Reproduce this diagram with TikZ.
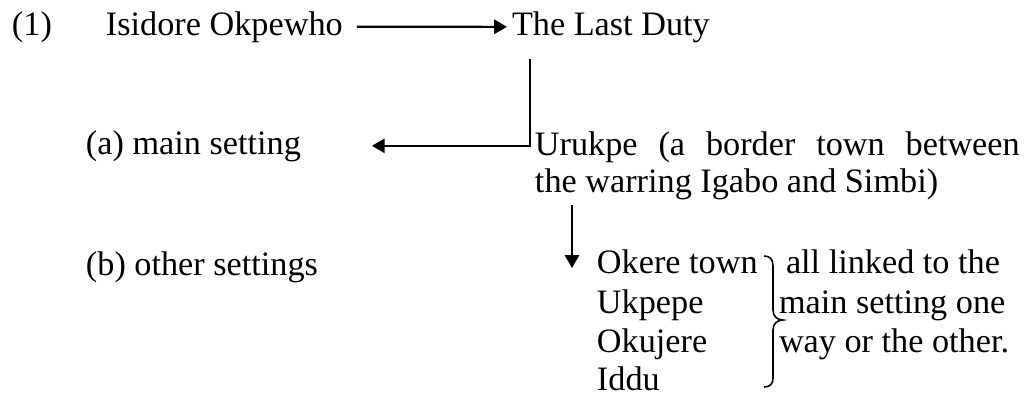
\documentclass[tikz,border=0pt]{standalone}
\usepackage{fontspec}
\setmainfont{Liberation Serif}
\usetikzlibrary{arrows.meta}
% one drawing unit
\newcommand\pxl{0.3505pt}
\begin{document}
\begin{tikzpicture}[x=\pxl,y=-\pxl,
  font=\fontsize{12pt}{13.8pt}\selectfont,
  txt/.style={anchor=base west, inner sep=0pt, outer sep=0pt},
  link/.style={line width=0.75pt},
  arr/.style={link,-{Triangle[length=4.5pt,width=5pt]}},
  bracestroke/.style={line width=0.55pt}]
\useasboundingbox (0,0) rectangle (1024,397);

% headings and labels
\node[txt] (num)      at (12,35)   {(1)};
\node[txt] (author)   at (106,35)  {Isidore Okpewho};
\node[txt] (novel)    at (512,35)  {The Last Duty};
\node[txt] (mainlbl)  at (86,154)  {(a) main setting};
\node[txt] (urukpe)   at (535,155) {\makebox[169.9pt][s]{Urukpe (a border town between}};
\node[txt] (warring)  at (535,192) {the warring Igabo and Simbi)};
\node[txt] (otherlbl) at (86,275)  {(b) other settings};

% list of other settings
\node[txt] (okere)   at (597,273) {Okere town};
\node[txt] (ukpepe)  at (597,313) {Ukpepe};
\node[txt] (okujere) at (597,352) {Okujere};
\node[txt] (iddu)    at (597,390) {Iddu};

% remark beside the brace
\node[txt] (note1) at (786,273) {all linked to the};
\node[txt] (note2) at (779,313) {main setting one};
\node[txt] (note3) at (779,352) {way or the other.};

% connectors
\draw[arr] ([xshift=14*\pxl]author.east) -- ([xshift=-5*\pxl]novel.west);
\draw[arr] ([xshift=18*\pxl,yshift=-17*\pxl]novel.south west)
           |- ([xshift=71*\pxl]mainlbl.east);
\draw[arr] ([xshift=37*\pxl,yshift=-6*\pxl]warring.south west)
           -- ([xshift=-25*\pxl,yshift=5*\pxl]okere.base west);

% right brace grouping the four towns
\draw[bracestroke] (764,256) .. controls (770,256) and (773,259) .. (773,266)
  -- (773,310) .. controls (773,316) and (777,320) .. (783,320)
  .. controls (777,320) and (773,324) .. (773,330)
  -- (773,378) .. controls (773,384) and (770,387) .. (764,387);
\end{tikzpicture}
\end{document}
